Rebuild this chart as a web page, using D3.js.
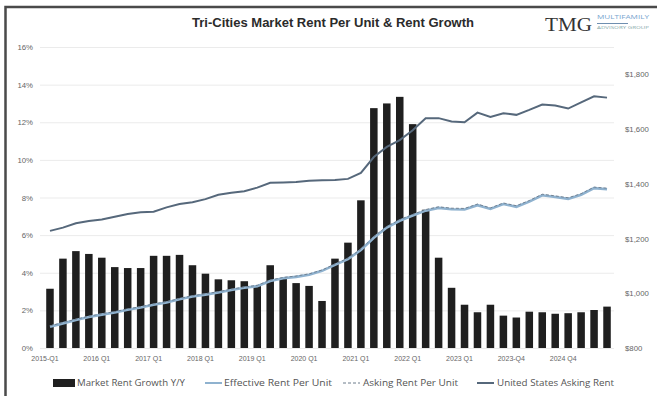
<!DOCTYPE html>
<html><head><meta charset="utf-8">
<script src="https://cdn.jsdelivr.net/npm/d3@7"></script>
<style>
html,body{margin:0;padding:0;background:#fff;}
svg{display:block;font-family:"Open Sans","Liberation Sans",Arial,sans-serif;}
</style></head>
<body><svg id="c" width="657" height="396"></svg>
<script>
const categories = [
 "2015-Q1","2015 Q2","2015 Q3","2015 Q4","2016 Q1","2016 Q2","2016 Q3","2016 Q4",
 "2017 Q1","2017 Q2","2017 Q3","2017 Q4","2018 Q1","2018 Q2","2018 Q3","2018 Q4",
 "2019 Q1","2019 Q2","2019 Q3","2019 Q4","2020 Q1","2020 Q2","2020 Q3","2020 Q4",
 "2021 Q1","2021 Q2","2021 Q3","2021 Q4","2022 Q1","2022 Q2","2022 Q3","2022 Q4",
 "2023 Q1","2023 Q2","2023 Q3","2023-Q3","2023-Q4","2024-Q1","2024-Q2","2024-Q3",
 "2024 Q4","2025 Q1","2025 Q2","2025 Q3"];
const tickLabels = ["2015-Q1","2016 Q1","2017 Q1","2018 Q1","2019 Q1","2020 Q1","2021 Q1","2022 Q1","2023 Q1","2023-Q4","2024 Q4"];
const rentGrowth = [3.15,4.75,5.15,5.0,4.8,4.3,4.25,4.25,4.9,4.9,4.95,4.4,
 3.95,3.65,3.6,3.55,3.3,4.4,3.7,3.45,3.3,2.5,4.75,5.6,
 7.85,12.75,13.0,13.35,11.9,7.35,4.8,3.2,2.3,1.9,2.3,1.72,
 1.62,1.93,1.9,1.82,1.85,1.9,2.02,2.2];
const effectiveRent = [878,890,902,913,922,930,940,948,958,966,978,988,
 995,1003,1012,1020,1026,1045,1055,1060,1068,1082,1104,1125,
 1158,1203,1240,1265,1284,1302,1312,1307,1306,1322,1308,1326,
 1316,1335,1358,1352,1345,1360,1384,1380];
const askingRent = [881,893,905,916,925,933,943,951,961,969,981,991,
 998,1006,1015,1023,1029,1048,1058,1063,1071,1085,1107,1128,
 1161,1207,1244,1269,1288,1306,1316,1311,1310,1326,1312,1330,
 1320,1339,1362,1356,1349,1364,1388,1384];
const usAskingRent = [1228,1240,1256,1264,1270,1280,1290,1296,1298,1314,1326,1333,
 1344,1360,1367,1373,1386,1404,1405,1407,1411,1413,1414,1418,
 1440,1498,1535,1560,1596,1640,1640,1628,1625,1660,1644,1658,
 1652,1670,1690,1686,1675,1698,1720,1715];
const leftTicks = [0,2,4,6,8,10,12,14,16];
const rightTicks = [800,1000,1200,1400,1600,1800];

const svg = d3.select("#c");
// frame
svg.append("rect").attr("x",5.5).attr("y",7).attr("width",660).attr("height",400)
  .attr("fill","none").attr("stroke","#4a4a4a").attr("stroke-width",2.5);

// title
svg.append("text").attr("x",333).attr("y",27).attr("text-anchor","middle")
  .attr("font-family","'Liberation Sans Narrow','Liberation Sans',Arial,sans-serif")
  .attr("font-weight","bold").attr("font-size",12.5).attr("fill","#2b2b2b")
  .attr("textLength",282).attr("lengthAdjust","spacingAndGlyphs")
  .text("Tri-Cities Market Rent Per Unit & Rent Growth");

// logo
svg.append("text").attr("x",545).attr("y",31).attr("font-family","'Liberation Serif','DejaVu Serif',serif")
  .attr("font-size",19).attr("fill","#333").attr("textLength",47).attr("lengthAdjust","spacingAndGlyphs").text("TMG");
svg.append("text").attr("x",597).attr("y",19).attr("font-size",5).attr("fill","#7aa6cf").attr("textLength",52).attr("lengthAdjust","spacingAndGlyphs").text("MULTIFAMILY");
svg.append("line").attr("x1",597).attr("x2",628).attr("y1",23.5).attr("y2",23.5).attr("stroke","#6f8fb0").attr("stroke-width",1);
svg.append("text").attr("x",597).attr("y",29).attr("font-size",3.5).attr("fill","#8aa").attr("textLength",52).attr("lengthAdjust","spacingAndGlyphs").text("ADVISORY GROUP");

const x = d3.scaleBand().domain(categories).range([43.5,613.5]).paddingInner(0.42).paddingOuter(0.21);
const yL = d3.scaleLinear().domain([0,16]).range([348,47]);
const yR = d3.scaleLinear().domain([800,1900]).range([348,47]);

// gridlines
svg.append("g").selectAll("line").data(leftTicks).join("line")
  .attr("x1",40).attr("x2",614).attr("y1",d=>yL(d)+0.5).attr("y2",d=>yL(d)+0.5)
  .attr("stroke","#ebebeb").attr("stroke-width",1);

// left axis
const gL = svg.append("g").attr("transform","translate(34,0)")
  .call(d3.axisLeft(yL).tickValues(leftTicks).tickSize(0).tickPadding(1).tickFormat(d=>d+"%"));
gL.select(".domain").remove();
gL.selectAll("text").attr("font-size",7.8).attr("fill","#666");

// right axis
const gR = svg.append("g").attr("transform","translate(624,0)")
  .call(d3.axisRight(yR).tickValues(rightTicks).tickSize(0).tickPadding(1)
  .tickFormat(d=>"$"+d3.format(",")(d)));
gR.select(".domain").remove();
gR.selectAll("text").attr("font-size",7.8).attr("fill","#666");

// bars
svg.append("g").selectAll("rect").data(rentGrowth).join("rect")
  .attr("x",(d,i)=>x(categories[i])).attr("width",x.bandwidth())
  .attr("y",d=>yL(d)).attr("height",d=>yL(0)-yL(d))
  .attr("fill","#1f1f1f");

// x axis
const tickCats = categories.filter((c,i)=>i%4===0);
const gX = svg.append("g").attr("transform","translate(-5,356)")
  .call(d3.axisBottom(x).tickValues(tickCats).tickSize(0).tickPadding(0)
  .tickFormat((d,i)=>tickLabels[i]));
gX.select(".domain").remove();
gX.selectAll("text").attr("font-size",7).attr("fill","#666");

const cx = i => x(categories[i]) + x.bandwidth()/2;
const line = arr => d3.line().x((d,i)=>cx(i)).y(d=>yR(d)).curve(d3.curveLinear)(arr);

svg.append("path").attr("d",line(effectiveRent)).attr("fill","none")
  .attr("stroke","#8fb2cf").attr("stroke-width",2.6);
svg.append("path").attr("d",line(askingRent)).attr("fill","none")
  .attr("stroke","#6c7c8c").attr("stroke-width",0.9).attr("stroke-dasharray","3,2");
svg.append("path").attr("d",line(usAskingRent)).attr("fill","none")
  .attr("stroke","#56687b").attr("stroke-width",2);

// legend
const lg = svg.append("g").attr("font-size",8.5).attr("fill","#555");
lg.append("rect").attr("x",53).attr("y",379).attr("width",22).attr("height",8).attr("fill","#1f1f1f");
lg.append("text").attr("x",77).attr("y",386).attr("textLength",108).attr("lengthAdjust","spacingAndGlyphs").text("Market Rent Growth Y/Y");
lg.append("line").attr("x1",205).attr("x2",222).attr("y1",383).attr("y2",383).attr("stroke","#8fb2cf").attr("stroke-width",2);
lg.append("text").attr("x",224).attr("y",386).attr("textLength",108).attr("lengthAdjust","spacingAndGlyphs").text("Effective Rent Per Unit");
lg.append("line").attr("x1",343).attr("x2",360).attr("y1",383).attr("y2",383).attr("stroke","#6c7c8c").attr("stroke-width",1).attr("stroke-dasharray","3,2");
lg.append("text").attr("x",363).attr("y",386).attr("textLength",95).attr("lengthAdjust","spacingAndGlyphs").text("Asking Rent Per Unit");
lg.append("line").attr("x1",477).attr("x2",494).attr("y1",383).attr("y2",383).attr("stroke","#56687b").attr("stroke-width",2);
lg.append("text").attr("x",497).attr("y",386).attr("textLength",117).attr("lengthAdjust","spacingAndGlyphs").text("United States Asking Rent");
</script></body></html>
